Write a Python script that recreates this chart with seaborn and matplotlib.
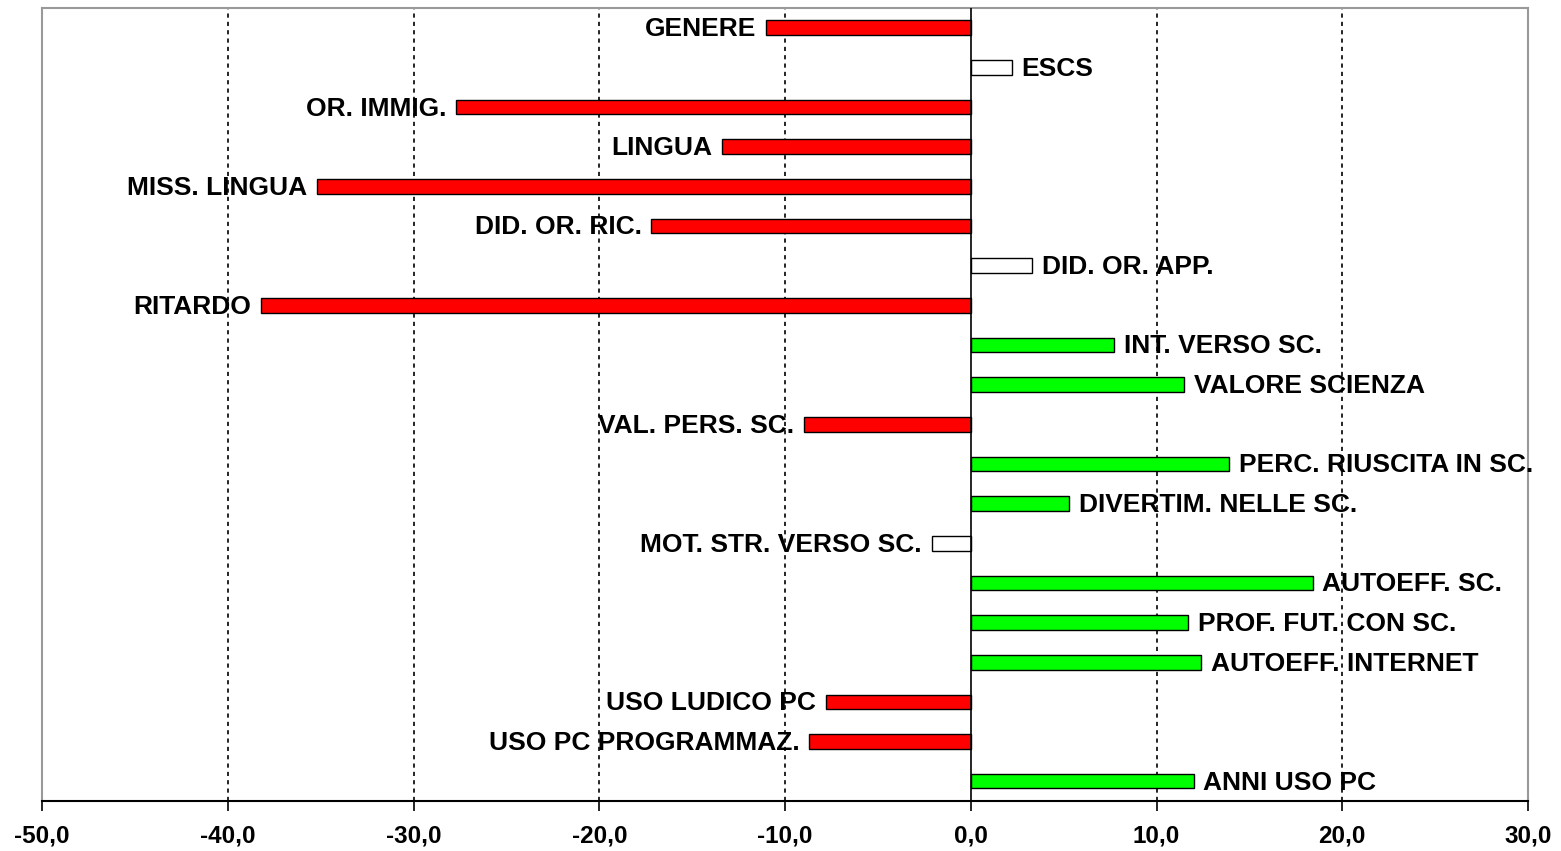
import numpy as np
import pandas as pd
import matplotlib
matplotlib.use("Agg")
import matplotlib.pyplot as plt
import seaborn as sns

# data
labels = ["GENERE", "ESCS", "OR. IMMIG.", "LINGUA", "MISS. LINGUA",
          "DID. OR. RIC.", "DID. OR. APP.", "RITARDO", "INT. VERSO SC.",
          "VALORE SCIENZA", "VAL. PERS. SC.", "PERC. RIUSCITA IN SC.",
          "DIVERTIM. NELLE SC.", "MOT. STR. VERSO SC.", "AUTOEFF. SC.",
          "PROF. FUT. CON SC.", "AUTOEFF. INTERNET", "USO LUDICO PC",
          "USO PC PROGRAMMAZ.", "ANNI USO PC"]
values = [-11.0, 2.2, -27.7, -13.4, -35.2, -17.2, 3.3, -38.2, 7.7, 11.5,
          -9.0, 13.9, 5.3, -2.1, 18.4, 11.7, 12.4, -7.8, -8.7, 12.0]
groups = ["neg", "ns", "neg", "neg", "neg", "neg", "ns", "neg", "pos", "pos",
          "neg", "pos", "pos", "ns", "pos", "pos", "pos", "neg", "neg", "pos"]
ticks = [-50, -40, -30, -20, -10, 0, 10, 20, 30]

df = pd.DataFrame({"label": labels, "value": values, "group": groups})
palette = {"neg": "#ff0000", "pos": "#00ff00", "ns": "#ffffff"}

sns.set_style("white")
plt.rcParams["font.family"] = ["Liberation Sans", "DejaVu Sans"]
plt.rcParams["text.color"] = "black"
plt.rcParams["xtick.color"] = "black"

fig = plt.figure(figsize=(15.61, 8.51), dpi=100)
ax = fig.add_axes([0.0269, 0.0588, 0.9520, 0.9318])

sns.barplot(data=df, x="value", y="label", hue="group", palette=palette,
            dodge=False, legend=False, width=0.37, edgecolor="black",
            linewidth=1.0, saturation=1, orient="h", ax=ax, zorder=3)

# grid lines
for t in ticks:
    if t in (-50, 0, 30):
        continue
    ax.axvline(t, color="black", lw=1.2, ls=(0, (2.5, 2.5)), zorder=1)
ax.axvline(0, color="black", lw=1.2, zorder=4)

# bar labels
for i, (lab, v) in enumerate(zip(labels, values)):
    if v < 0:
        ax.annotate(lab, (v, i), xytext=(-7, -1), textcoords="offset points",
                    ha="right", va="center", fontsize=19, fontweight="bold",
                    color="black", zorder=5)
    else:
        ax.annotate(lab, (v, i), xytext=(7, -1), textcoords="offset points",
                    ha="left", va="center", fontsize=19, fontweight="bold",
                    color="black", zorder=5)

ax.set_xlim(-50, 30)
ax.set_ylim(19.5, -0.5)
ax.set_xticks(ticks)
ax.set_xticklabels([f"{t:.1f}".replace(".", ",") for t in ticks],
                   fontsize=17.5, fontweight="bold", color="black")
ax.set_yticks([])
ax.set_xlabel("")
ax.set_ylabel("")
ax.tick_params(axis="x", direction="out", length=7, width=1.2, color="black",
               pad=10, bottom=True)

for side in ("top", "left", "right"):
    ax.spines[side].set_color("#999999")
    ax.spines[side].set_linewidth(1.5)
ax.spines["bottom"].set_color("black")
ax.spines["bottom"].set_linewidth(1.5)

fig.savefig("out.png", dpi=100, facecolor="white")
